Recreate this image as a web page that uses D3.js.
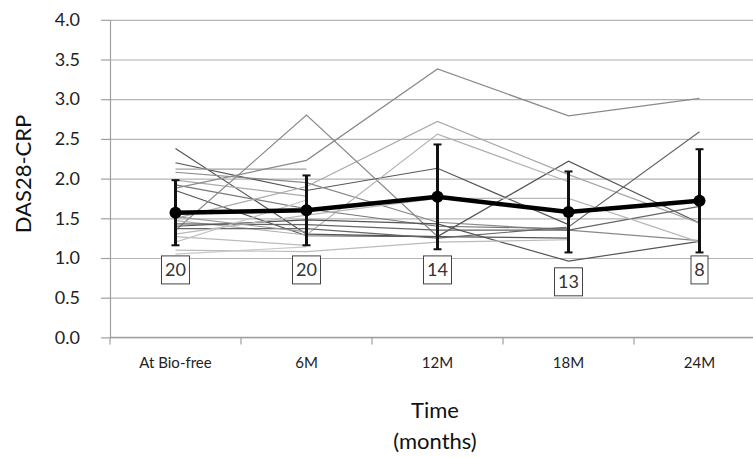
<!doctype html>
<html>
<head>
<meta charset="utf-8">
<script src="https://d3js.org/d3.v7.min.js"></script>
<style>
  body { margin: 0; background: #fff; }
  svg { display: block; font-family: Lato, "Open Sans", sans-serif; }
</style>
</head>
<body>
<script>
  // categories and summary values
  var categories = ["At Bio-free", "6M", "12M", "18M", "24M"];
  var means = [1.57, 1.60, 1.77, 1.58, 1.72];
  var sds = [0.41, 0.44, 0.66, 0.51, 0.65];
  var counts = [20, 20, 14, 13, 8];
  var countPos = [0.85, 0.85, 0.85, 0.70, 0.85];
  var yTicks = [0, 0.5, 1, 1.5, 2, 2.5, 3, 3.5, 4];

  // individual patients (null = no visit)
  var patients = [
    [2.38, 1.30, 1.27, 1.25, null],
    [2.20, 1.85, 2.13, 1.42, null],
    [2.12, 2.12, null, null, null],
    [2.08, 1.95, 1.45, 1.35, 1.22],
    [1.98, 1.78, null, null, null],
    [1.92, 1.62, 1.40, 1.37, null],
    [1.88, 2.23, 3.38, 2.79, 3.01],
    [1.85, 1.28, 1.27, 2.22, 1.44],
    [1.50, 1.90, 2.72, 2.05, 1.44],
    [1.35, 2.80, 1.27, null, null],
    [1.47, 1.29, 2.56, 1.96, null],
    [1.43, 1.42, 1.35, 1.35, 1.65],
    [1.40, 1.48, 1.43, 0.96, 1.21],
    [1.37, 1.37, 1.25, 1.39, 2.59],
    [1.30, 1.54, 1.75, 1.75, 1.20],
    [1.27, 1.16, null, null, null],
    [1.20, 1.73, null, null, null],
    [1.10, 1.08, 1.20, 1.23, null],
    [1.05, 1.14, null, null, null],
    [1.52, 1.33, null, null, null]
  ];
  var patientGrey = ["#555", "#555", "#a0a0a0", "#888", "#aaa", "#777", "#8a8a8a", "#555", "#a8a8a8", "#8a8a8a",
                     "#b0b0b0", "#666", "#555", "#666", "#b8b8b8", "#bbb", "#c4c4c4", "#bbb", "#c8c8c8", "#999"];

  var W = 753, H = 457;
  var svg = d3.select("body").append("svg").attr("width", W).attr("height", H);

  var x = d3.scaleBand().domain(categories).range([110, 765]);
  var y = d3.scaleLinear().domain([0, 4]).range([337.4, 19.8]);
  var cx = function(i) { return x(categories[i]) + x.bandwidth() / 2; };

  // gridlines
  svg.append("g")
    .attr("transform", "translate(110,0)")
    .call(d3.axisRight(y).tickValues(yTicks).tickSize(660).tickFormat(""))
    .call(function(g) {
      g.select(".domain").remove();
      g.selectAll("line").attr("stroke", "#b4b4b4").attr("stroke-width", 1.2);
    });

  // y axis
  svg.append("g")
    .attr("transform", "translate(110,0)")
    .call(d3.axisLeft(y).tickValues(yTicks).tickFormat(d3.format(".1f")).tickSize(9).tickSizeOuter(0).tickPadding(21))
    .call(function(g) {
      g.select(".domain").attr("stroke", "#a0a0a0").attr("stroke-width", 1.2);
      g.selectAll("line").attr("stroke", "#a0a0a0").attr("stroke-width", 1.2);
      g.selectAll("text").attr("font-size", 18).attr("fill", "#222").attr("font-family", "Lato, sans-serif");
    });

  // x axis line and boundary ticks
  svg.append("line")
    .attr("x1", 110).attr("x2", 765)
    .attr("y1", y(0)).attr("y2", y(0))
    .attr("stroke", "#a0a0a0").attr("stroke-width", 1.2);
  svg.append("g").selectAll("line")
    .data(categories.concat(["end"]))
    .join("line")
    .attr("x1", function(d) { return d === "end" ? x.range()[1] : x(d); })
    .attr("x2", function(d) { return d === "end" ? x.range()[1] : x(d); })
    .attr("y1", y(0)).attr("y2", y(0) + 7)
    .attr("stroke", "#a0a0a0").attr("stroke-width", 1.2);

  // x labels
  svg.append("g")
    .attr("transform", "translate(0," + y(0) + ")")
    .call(d3.axisBottom(x).tickSize(0).tickPadding(20))
    .call(function(g) {
      g.select(".domain").remove();
      g.selectAll("text").attr("font-size", 15).attr("fill", "#222").attr("font-family", "Lato, sans-serif");
    });

  // axis titles
  svg.append("text")
    .attr("transform", "translate(31,174) rotate(-90)")
    .attr("text-anchor", "middle")
    .attr("font-size", 22).attr("fill", "#111")
    .text("DAS28-CRP");
  svg.append("text")
    .attr("x", 435).attr("y", 418)
    .attr("text-anchor", "middle")
    .attr("font-size", 22).attr("fill", "#111")
    .text("Time");
  svg.append("text")
    .attr("x", 435).attr("y", 449)
    .attr("text-anchor", "middle")
    .attr("font-size", 22).attr("fill", "#111")
    .text("(months)");

  // individual lines
  var line = d3.line()
    .defined(function(d) { return d != null; })
    .x(function(d, i) { return cx(i); })
    .y(function(d) { return y(d); });

  svg.append("g").selectAll("path")
    .data(patients)
    .join("path")
    .attr("d", line)
    .attr("fill", "none")
    .attr("stroke", function(d, i) { return patientGrey[i]; })
    .attr("stroke-width", 1.2);

  // error bars
  var eb = svg.append("g").attr("stroke", "#111").attr("stroke-width", 3);
  means.forEach(function(m, i) {
    var lo = y(m - sds[i]), hi = y(m + sds[i]);
    eb.append("line").attr("x1", cx(i)).attr("x2", cx(i)).attr("y1", lo).attr("y2", hi);
    eb.append("line").attr("x1", cx(i) - 4).attr("x2", cx(i) + 4).attr("y1", lo).attr("y2", lo).attr("stroke-width", 2);
    eb.append("line").attr("x1", cx(i) - 4).attr("x2", cx(i) + 4).attr("y1", hi).attr("y2", hi).attr("stroke-width", 2);
  });

  // mean line
  svg.append("path")
    .datum(means)
    .attr("d", d3.line().x(function(d, i) { return cx(i); }).y(function(d) { return y(d); }))
    .attr("fill", "none").attr("stroke", "#000").attr("stroke-width", 4.5);
  svg.append("g").selectAll("circle")
    .data(means)
    .join("circle")
    .attr("cx", function(d, i) { return cx(i); })
    .attr("cy", function(d) { return y(d); })
    .attr("r", 6).attr("fill", "#000");

  // count boxes
  var cb = svg.append("g").selectAll("g")
    .data(counts)
    .join("g")
    .attr("transform", function(d, i) { return "translate(" + cx(i) + "," + y(countPos[i]) + ")"; });
  cb.append("rect")
    .attr("x", function(d) { return d < 10 ? -8.5 : -14; })
    .attr("width", function(d) { return d < 10 ? 17 : 28; })
    .attr("y", -14).attr("height", 28)
    .attr("fill", "#fff").attr("stroke", "#444").attr("stroke-width", 1);
  cb.append("text")
    .attr("text-anchor", "middle")
    .attr("dy", "0.36em")
    .attr("font-size", 18).attr("fill", "#333")
    .text(function(d) { return d; });
</script>
</body>
</html>
